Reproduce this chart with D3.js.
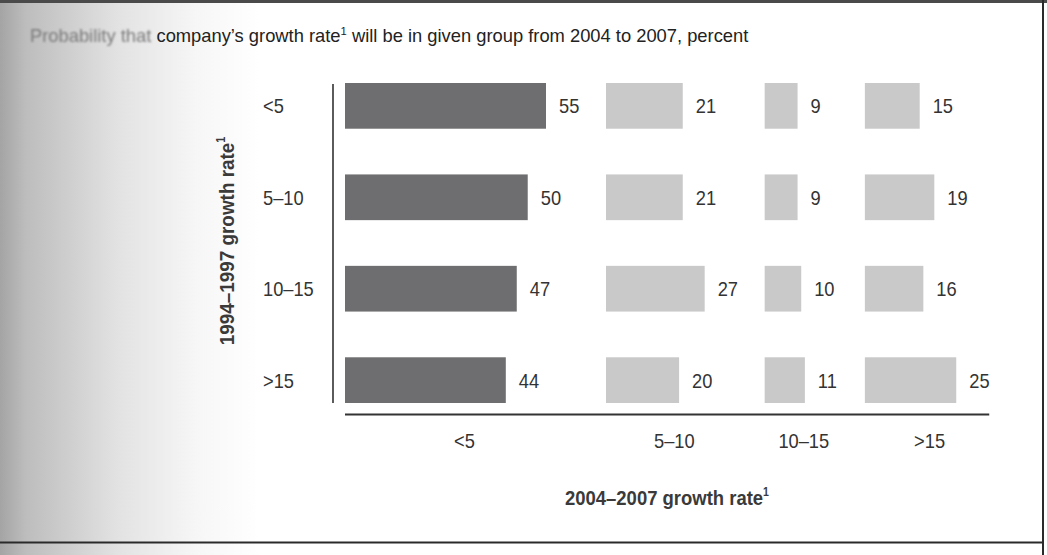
<!DOCTYPE html>
<html>
<head>
<meta charset="utf-8">
<script src="https://cdn.jsdelivr.net/npm/d3@7"></script>
<style>
  html, body { margin: 0; padding: 0; background: #fff; }
  svg { display: block; }
  text { font-family: "Liberation Sans", Arial, sans-serif; white-space: pre; }
</style>
</head>
<body>
<svg id="chart" width="1047" height="555"></svg>
<script>
// ---- data ----
const rowCategories = ["<5", "5\u201310", "10\u201315", ">15"];      // 1994–1997 growth rate
const colCategories = ["<5", "5\u201310", "10\u201315", ">15"];      // 2004–2007 growth rate
const colLt5    = [55, 50, 47, 44];
const col5to10  = [21, 21, 27, 20];
const col10to15 = [9, 9, 10, 11];
const colGt15   = [15, 19, 16, 25];
const columnValues = [colLt5, col5to10, col10to15, colGt15];
const titleBlurred = "Probability that ";
const titleRest = "company\u2019s growth rate";
const titleEnd = " will be in given group from 2004 to 2007, percent";
const yTitle = "1994\u20131997 growth rate";
const xTitle = "2004\u20132007 growth rate";

// ---- layout ----
const W = 1047, H = 555;
const SX = 0.87;            // condensed look
const svg = d3.select("#chart");
const defs = svg.append("defs");

const grad = defs.append("linearGradient").attr("id", "gutter").attr("x1", 0).attr("x2", 1);
grad.append("stop").attr("offset", 0).attr("stop-color", "#a4a4a4");
grad.append("stop").attr("offset", 0.1).attr("stop-color", "#bdbdbd");
grad.append("stop").attr("offset", 0.45).attr("stop-color", "#e2e2e2");
grad.append("stop").attr("offset", 0.75).attr("stop-color", "#f6f6f6");
grad.append("stop").attr("offset", 1).attr("stop-color", "#ffffff");
defs.append("filter").attr("id", "blur").append("feGaussianBlur").attr("stdDeviation", 1.3);

svg.append("rect").attr("width", W).attr("height", H).attr("fill", "#fff");
svg.append("rect").attr("x", 0).attr("y", 0).attr("width", 260).attr("height", H).attr("fill", "url(#gutter)");

// page frame lines
svg.append("rect").attr("x", 0).attr("y", 0).attr("width", W).attr("height", 3).attr("fill", "#4a4a4a");
svg.append("rect").attr("x", 1042).attr("y", 0).attr("width", 2).attr("height", H).attr("fill", "#2a2a2a");
svg.append("rect").attr("x", 0).attr("y", 541.5).attr("width", 1043).attr("height", 2).attr("fill", "#2a2a2a");

// scales
const x = d3.scaleLinear().domain([0, 55]).range([0, 201]);
const y = d3.scaleBand().domain(rowCategories).range([83, 403]).paddingInner(0.5).paddingOuter(0);

const colMax = columnValues.map(v => d3.max(v));
const colStart = [];
colStart[0] = 345;
for (let i = 1; i < colCategories.length; i++) colStart[i] = colStart[i - 1] + x(colMax[i - 1]) + 60;

const textColor = "#333";
const fs = 21;

// title (scaled to its printed width)
const tg = svg.append("g");
const t1 = tg.append("text").attr("x", 0).attr("y", 0).attr("font-size", 18)
  .attr("fill", "#7a7a7a").attr("filter", "url(#blur)").text(titleBlurred);
const w1 = t1.node().getComputedTextLength();
const t2 = tg.append("text").attr("x", w1).attr("y", 0).attr("font-size", 18).attr("fill", "#222");
t2.append("tspan").text(titleRest);
t2.append("tspan").attr("font-size", 11).attr("dy", -7).text("1");
t2.append("tspan").attr("dy", 7).text(titleEnd);
const titleW = w1 + t2.node().getComputedTextLength();
tg.attr("transform", `translate(30,42) scale(${719 / titleW},1)`);

// vertical axis line
svg.append("line").attr("x1", 333).attr("x2", 333).attr("y1", 84).attr("y2", 403)
  .attr("stroke", "#333").attr("stroke-width", 1.6);
// horizontal axis line
svg.append("line").attr("x1", colStart[0]).attr("x2", colStart[3] + x(colMax[3]) + 33)
  .attr("y1", 414.5).attr("y2", 414.5).attr("stroke", "#333").attr("stroke-width", 2);

// row labels
svg.append("g").selectAll("text").data(rowCategories).join("text")
  .attr("transform", d => `translate(263,${y(d) + y.bandwidth() / 2}) scale(${SX},1)`)
  .attr("dy", "0.36em").attr("font-size", fs).attr("fill", textColor).text(d => d);

// bars
columnValues.forEach((vals, ci) => {
  const g = svg.append("g").attr("transform", `translate(${colStart[ci]},0)`);
  g.selectAll("rect").data(vals).join("rect")
    .attr("x", 0).attr("y", (d, i) => y(rowCategories[i]))
    .attr("width", d => x(d)).attr("height", y.bandwidth())
    .attr("fill", ci === 0 ? "#6e6e70" : "#c9c9c9");
  g.selectAll("text").data(vals).join("text")
    .attr("transform", (d, i) => `translate(${x(d) + 13},${y(rowCategories[i]) + y.bandwidth() / 2}) scale(${SX},1)`)
    .attr("dy", "0.36em").attr("font-size", fs).attr("fill", textColor).text(d => d);
});

// column labels
svg.append("g").selectAll("text").data(colCategories).join("text")
  .attr("transform", (d, i) => `translate(${colStart[i] + x(colMax[i]) / 2 + 19},448) scale(${SX},1)`)
  .attr("text-anchor", "middle").attr("font-size", fs).attr("fill", textColor).text(d => d);

// x title
const xt = svg.append("text").attr("transform", "translate(667,505) scale(0.88,1)").attr("text-anchor", "middle")
  .attr("font-size", 21).attr("font-weight", "bold").attr("fill", "#3a3a3a");
xt.append("tspan").text(xTitle);
xt.append("tspan").attr("font-size", 12).attr("dy", -9).text("1");

// y title
const yt = svg.append("text").attr("transform", "translate(234,241) rotate(-90) scale(0.9,1)").attr("text-anchor", "middle")
  .attr("font-size", 21).attr("font-weight", "bold").attr("fill", "#3a3a3a");
yt.append("tspan").text(yTitle);
yt.append("tspan").attr("font-size", 12).attr("dy", -9).text("1");
</script>
</body>
</html>
